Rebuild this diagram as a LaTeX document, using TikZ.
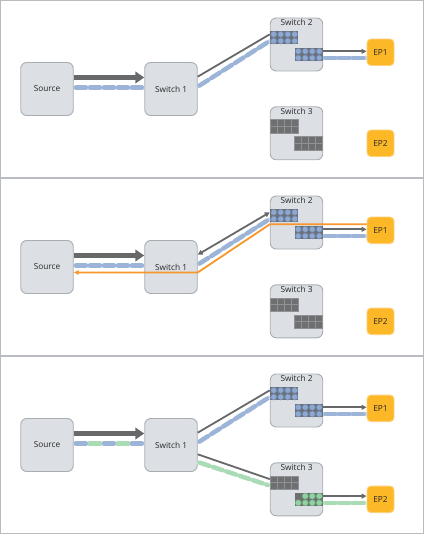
\documentclass[tikz,border=0pt]{standalone}
\usepackage{fontspec}
\setmainfont{Open Sans}
\usetikzlibrary{arrows.meta}
\definecolor{boxfill}{HTML}{DCE0E4}
\definecolor{boxdraw}{HTML}{A8ADB2}
\definecolor{epfill}{HTML}{FDB827}
\definecolor{epdraw}{HTML}{FDD07A}
\definecolor{arrgray}{HTML}{67686A}
\definecolor{bluedash}{HTML}{9CB4D8}
\definecolor{bluelight}{HTML}{C6D5EA}
\definecolor{greendash}{HTML}{A9DBB5}
\definecolor{greenlight}{HTML}{D3EEDA}
\definecolor{mixlight}{HTML}{D2DEE4}
\definecolor{orangeln}{HTML}{F7962A}
\definecolor{gridgray}{HTML}{6E6F71}
\definecolor{gridline}{HTML}{8F9194}
\definecolor{cellblue}{HTML}{8EA8CF}
\definecolor{cellblueedge}{HTML}{6A86B3}
\definecolor{cellgreen}{HTML}{93D1A2}
\definecolor{cellgreenedge}{HTML}{6EB383}
\definecolor{txt}{HTML}{262626}
\definecolor{framecol}{HTML}{B8BCC0}
\newcommand\bluegrid[2]{%
  \fill[gridgray] (#1,#2) rectangle ++(28,13.3);
  \foreach \i in {0,...,3}{\foreach \j in {0,1}{
    \filldraw[fill=cellblue,draw=cellblueedge,line width=0.5pt] (#1+3.5+7*\i,#2+3.33+6.65*\j) circle[radius=3pt];
  }}}
\newcommand\graygrid[2]{%
  \fill[gridgray] (#1,#2) rectangle ++(28,13.3);
  \foreach \i in {0,...,3}{\foreach \j in {0,1}{
    \draw[gridline,line width=0.6pt] (#1+7*\i,#2+6.65*\j) rectangle ++(7,6.65);
  }}}
\newcommand\greengrid[2]{%
  \fill[gridgray] (#1,#2) rectangle ++(28,13.3);
  \foreach \i/\j in {1/0,2/0,3/0,0/1,1/1,2/1,3/1}{
    \filldraw[fill=cellgreen,draw=cellgreenedge,line width=0.5pt] (#1+3.5+7*\i,#2+3.33+6.65*\j) circle[radius=3pt];
  }}
\newcommand\mynodes[1]{%
  \draw[panelframe] (0.5,0.5) rectangle (423.5,177.3);
  \node[box] (src#1) at (47,89) {Source};
  \node[box] (sw1#1) at (171,89) {Switch 1};
  \node[box] (sw2#1) at (296.5,44.5) {};
  \node[lbl] (sw2t#1) at (sw2#1.north) {Switch 2};
  \node[box] (sw3#1) at (296.5,133.3) {};
  \node[lbl] (sw3t#1) at (sw3#1.north) {Switch 3};
  \node[ep] (ep1#1) at (380.5,52.3) {EP1};
  \node[ep] (ep2#1) at (380.5,143.3) {EP2};
}
\begin{document}
\begin{tikzpicture}[x=1pt,y=-1pt,
  font=\fontsize{8.3}{9.5}\selectfont,
  panelframe/.style={draw=framecol,line width=1pt},
  box/.style={draw=boxdraw,fill=boxfill,line width=0.9pt,rounded corners=6pt,minimum width=52.5pt,minimum height=53pt,inner sep=0pt,text=txt},
  ep/.style={draw=epdraw,fill=epfill,line width=0.9pt,rounded corners=4pt,minimum width=27pt,minimum height=26.5pt,inner sep=0pt,text=txt},
  lbl/.style={anchor=north,inner sep=1.6pt,text=txt},
  thickarr/.style={draw=arrgray,line width=5pt,-{Triangle[length=9pt,width=11.5pt]}},
  thinln/.style={draw=arrgray,line width=1.8pt},
  thinarr/.style={draw=arrgray,line width=1.8pt,-{Triangle[length=5pt,width=5pt]}},
  bothar/.style={draw=arrgray,line width=1.8pt,{Triangle[length=5pt,width=5pt]}-{Triangle[length=5pt,width=5pt]}},
  orangearr/.style={draw=orangeln,line width=1.8pt,-{Triangle[length=5pt,width=4.5pt]}},
  bluedsh/.style={draw=bluedash,line width=4.5pt,line cap=round,shorten <=2.2pt,shorten >=2.2pt,dash pattern=on 10pt off 4pt,
    preaction={draw=bluelight,line width=3.5pt,solid,line cap=butt,shorten <=0pt,shorten >=0pt}},
  greendsh/.style={draw=greendash,line width=4.5pt,line cap=round,shorten <=2.2pt,shorten >=2.2pt,dash pattern=on 10pt off 4pt,
    preaction={draw=greenlight,line width=3.5pt,solid,line cap=butt,shorten <=0pt,shorten >=0pt}},
  bgdsh/.style={draw=bluedash,line width=4.5pt,line cap=round,shorten <=2.2pt,shorten >=2.2pt,dash pattern=on 10pt off 4pt on 10pt off 4pt,
    preaction={draw=mixlight,line width=3.5pt,solid,line cap=butt,shorten <=0pt,shorten >=0pt},
    postaction={draw=greendash,dash pattern=on 10pt off 18pt,dash phase=14pt}},
]
\useasboundingbox (0,0) rectangle (425,534);
% ---------- panel 1 ----------
\begin{scope}
  \mynodes{a}
  \bluegrid{270.25}{31}
  \bluegrid{294.75}{48}
  \graygrid{270.25}{119.8}
  \graygrid{294.75}{136.8}
  \draw[thickarr] ([yshift=11.5pt]srca.east) -- ([yshift=11.5pt]sw1a.west);
  \draw[bluedsh] ([yshift=1.3pt]srca.east) -- ([yshift=1.3pt]sw1a.west);
  \draw[thinln] ([yshift=12.3pt]sw1a.east) -- ([yshift=10.2pt]sw2a.west);
  \draw[bluedsh] ([yshift=2.3pt]sw1a.east) -- ([yshift=3.6pt]sw2a.west);
  \draw[thinarr] ([yshift=-6.8pt]sw2a.east) -- ([yshift=-6.8pt]sw2a.east -| ep1a.west);
  \draw[bluedsh] ([yshift=-13.5pt]sw2a.east) -- ([yshift=-13.5pt]sw2a.east -| ep1a.west);
\end{scope}
% ---------- panel 2 ----------
\begin{scope}[yshift=-178pt]
  \mynodes{b}
  \bluegrid{270.25}{31}
  \bluegrid{294.75}{48}
  \graygrid{270.25}{119.8}
  \graygrid{294.75}{136.8}
  \draw[thickarr] ([yshift=11.5pt]srcb.east) -- ([yshift=11.5pt]sw1b.west);
  \draw[bluedsh] ([yshift=1.3pt]srcb.east) -- ([yshift=1.3pt]sw1b.west);
  \draw[bothar] ([yshift=12.3pt]sw1b.east) -- ([yshift=10.2pt]sw2b.west);
  \draw[bluedsh] ([yshift=2.3pt]sw1b.east) -- ([yshift=3.6pt]sw2b.west);
  \draw[thinarr] ([yshift=-6.8pt]sw2b.east) -- ([yshift=-6.8pt]sw2b.east -| ep1b.west);
  \draw[bluedsh] ([yshift=-13.5pt]sw2b.east) -- ([yshift=-13.5pt]sw2b.east -| ep1b.west);
  \draw[orangearr] ([yshift=6pt]ep1b.west) -- ([yshift=-1.8pt]sw2b.west) -- ([yshift=-5.5pt]sw1b.east) -- ([yshift=-5.5pt]srcb.east);
\end{scope}
% ---------- panel 3 ----------
\begin{scope}[yshift=-356pt]
  \mynodes{c}
  \bluegrid{270.25}{31}
  \bluegrid{294.75}{48}
  \graygrid{270.25}{119.8}
  \greengrid{294.75}{136.8}
  \draw[thickarr] ([yshift=11.5pt]srcc.east) -- ([yshift=11.5pt]sw1c.west);
  \draw[bgdsh] ([yshift=1.5pt]srcc.east) -- ([yshift=1.5pt]sw1c.west);
  \draw[thinln] ([yshift=12.3pt]sw1c.east) -- ([yshift=10.2pt]sw2c.west);
  \draw[bluedsh] ([yshift=2.3pt]sw1c.east) -- ([yshift=3.6pt]sw2c.west);
  \draw[thinarr] ([yshift=-6.8pt]sw2c.east) -- ([yshift=-6.8pt]sw2c.east -| ep1c.west);
  \draw[bluedsh] ([yshift=-13.5pt]sw2c.east) -- ([yshift=-13.5pt]sw2c.east -| ep1c.west);
  \draw[thinln] ([yshift=-9.3pt]sw1c.east) -- ([yshift=10.2pt]sw3c.west);
  \draw[greendsh] ([yshift=-17pt]sw1c.east) -- ([yshift=3.6pt]sw3c.west);
  \draw[thinarr] ([yshift=-6.8pt]sw3c.east) -- ([yshift=-6.8pt]sw3c.east -| ep2c.west);
  \draw[greendsh] ([yshift=-13.5pt]sw3c.east) -- ([yshift=-13.5pt]sw3c.east -| ep2c.west);
\end{scope}
\end{tikzpicture}
\end{document}
